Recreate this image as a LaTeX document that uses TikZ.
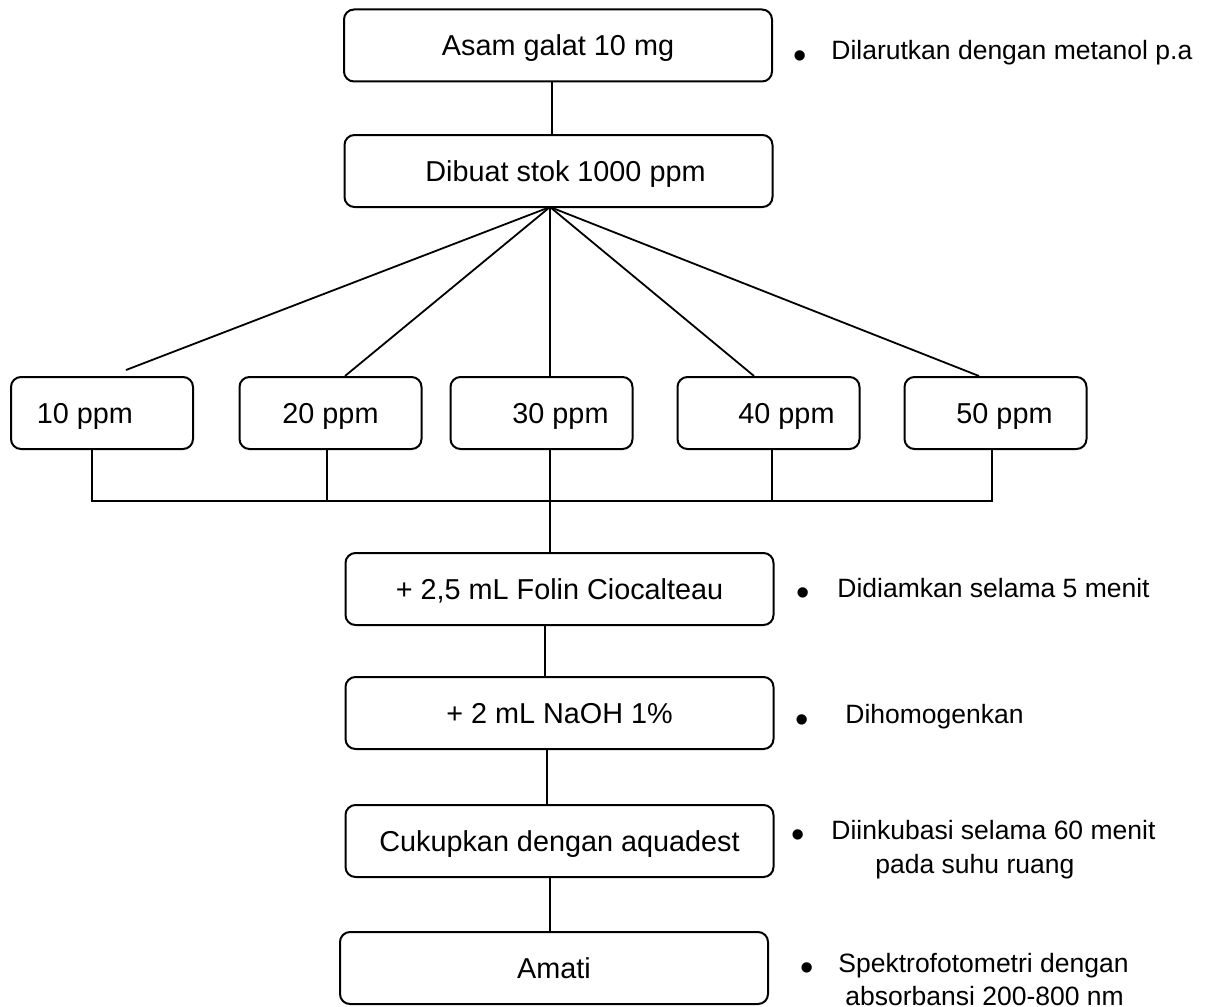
\documentclass[tikz,border=0pt]{standalone}
\usepackage{fontspec}
\setmainfont{Liberation Sans}
\newcommand{\boxfont}{\fontsize{14.4}{17}\selectfont}
\newcommand{\notefont}{\fontsize{13.25}{16.75}\selectfont}
\newcommand{\dotfont}{\fontsize{19}{19}\selectfont}
\begin{document}
\begin{tikzpicture}[x=0.5pt,y=-0.5pt,
  box/.style={draw, line width=1pt, rounded corners=5pt, inner sep=0pt,
    minimum height=36pt, text height=10.3pt, text depth=0pt, font=\boxfont},
  wide/.style={box, minimum width=214pt},
  conc/.style={box, minimum width=91pt},
  link/.style={line width=0.9pt},
  note/.style={anchor=base west, inner sep=0pt, font=\notefont},
  dot/.style={inner sep=0pt, font=\dotfont}]
\fill[white] (0,0) rectangle (1208,1006);
\useasboundingbox (0,0) rectangle (1208,1006);

% main column
\node[wide] (top)   at (558,45.5)  {Asam galat 10 mg};
\node[wide] (stock) at (558.5,171) {\hspace*{7pt}Dibuat stok 1000 ppm};

% concentration series
\node[conc] (p10) at (102,413)   {10 ppm\hspace*{17pt}};
\node[conc] (p20) at (330.5,413) {20 ppm};
\node[conc] (p30) at (541.5,413) {\hspace*{19pt}30 ppm};
\node[conc] (p40) at (768.5,413) {\hspace*{18pt}40 ppm};
\node[conc] (p50) at (995.5,413) {\hspace*{9pt}50 ppm};

% treatment steps
\node[wide] (folin) at (559.5,589) {+ 2,5 mL Folin Ciocalteau};
\node[wide] (naoh)  at (559.5,713) {+ 2 mL NaOH 1\%};
\node[wide] (aqua)  at (559.5,841) {Cukupkan dengan aquadest};
\node[wide] (amati) at (554,968)   {Amati};

% column positions of the connectors
\coordinate (c1) at (552,0);
\coordinate (apex) at (550,207);
\coordinate (f10) at (126,370);
\coordinate (c20) at (345,0);
\coordinate (c40) at (754,0);
\coordinate (c50) at (979,0);
\coordinate (busL) at (92,501);
\coordinate (busR) at (992,501);
\coordinate (d20) at (327,501);
\coordinate (d40) at (772,501);
\coordinate (s1) at (545,0);
\coordinate (s2) at (547,0);

\draw[link] (top.south -| c1) -- (stock.north -| c1);

% fan from the stock solution
\draw[link] (apex) -- (f10);
\draw[link] (apex) -- (p20.north -| c20);
\draw[link] (apex) -- (p30.north -| apex);
\draw[link] (apex) -- (p40.north -| c40);
\draw[link] (apex) -- (p50.north -| c50);

% collecting bus
\draw[link] (p10.south -| busL) -- (busL) -- (busR) -- (p50.south -| busR);
\draw[link] (p20.south -| d20) -- (d20);
\draw[link] (p40.south -| d40) -- (d40);
\draw[link] (p30.south -| apex) -- (folin.north -| apex);

\draw[link] (folin.south -| s1) -- (naoh.north -| s1);
\draw[link] (naoh.south -| s2) -- (aqua.north -| s2);
\draw[link] (aqua.south -| apex) -- (amati.north -| apex);

% side notes
\node[dot]  (b1) at (800,60)  {\textbullet};
\node[note] (n1) at (831,60)  {Dilarutkan dengan metanol p.a};
\node[dot]  (b2) at (803,597) {\textbullet};
\node[note] (n2) at (837,597) {Didiamkan selama 5 menit};
\node[dot]  (b3) at (802,724) {\textbullet};
\node[note] (n3) at (845,723) {Dihomogenkan};
\node[dot]  (b4) at (798,839) {\textbullet};
\node[note] (n4) at (831,839) {Diinkubasi selama 60 menit};
\node[note] (n4b) at (875,873) {pada suhu ruang};
\node[dot]  (b5) at (807,972) {\textbullet};
\node[note] (n5) at (838,972) {Spektrofotometri dengan};
\node[note] (n5b) at (845,1005) {absorbansi 200-800 nm};
\end{tikzpicture}
\end{document}
